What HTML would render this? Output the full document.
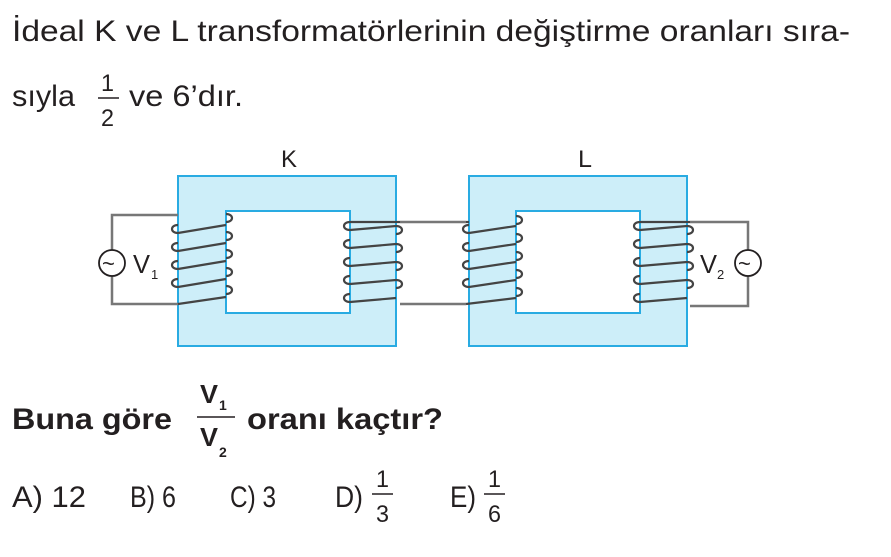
<!DOCTYPE html>
<html><head><meta charset="utf-8"><style>
html,body{margin:0;padding:0;background:#fff;}
svg{display:block;}
text{font-family:"Liberation Sans",sans-serif;fill:#231f20;}
</style></head><body>
<svg width="891" height="557" viewBox="0 0 891 557" xmlns="http://www.w3.org/2000/svg">
<text x="12" y="41" font-size="30" textLength="838" lengthAdjust="spacingAndGlyphs">İdeal K ve L transformatörlerinin değiştirme oranları sıra-</text>
<text x="12" y="106" font-size="30" textLength="63" lengthAdjust="spacingAndGlyphs">sıyla</text>
<text x="101" y="91" font-size="24" textLength="13" lengthAdjust="spacingAndGlyphs">1</text>
<line x1="98" y1="98" x2="119" y2="98" stroke="#231f20" stroke-width="1.5"/>
<text x="101" y="126" font-size="24" textLength="13" lengthAdjust="spacingAndGlyphs">2</text>
<text x="129" y="106" font-size="30" textLength="114" lengthAdjust="spacingAndGlyphs">ve 6’dır.</text>

<text x="281" y="167" font-size="24" textLength="16" lengthAdjust="spacingAndGlyphs">K</text>
<text x="578" y="167" font-size="24" textLength="14" lengthAdjust="spacingAndGlyphs">L</text>

<path d="M178 176H396V346H178Z M226 211V313H350V211Z" fill="#cdeef9" fill-rule="evenodd" stroke="#29abe2" stroke-width="2"/>
<path d="M469 176H687V346H469Z M516 211V313H640V211Z" fill="#cdeef9" fill-rule="evenodd" stroke="#29abe2" stroke-width="2"/>

<g fill="none" stroke="#777" stroke-width="2.5">
<polyline points="112,251 112,215 178,215"/>
<polyline points="112,276 112,304 178,304"/>
<polyline points="400,222 466,222"/>
<polyline points="400,304 466,304"/>
<polyline points="690,222 748,222 748,251"/>
<polyline points="690,306 748,306 748,276"/>
</g>
<circle cx="112" cy="263" r="13" fill="#fff" stroke="#231f20" stroke-width="1.8"/>
<text x="102" y="271" font-size="22">~</text>
<circle cx="748" cy="263" r="13" fill="#fff" stroke="#231f20" stroke-width="1.8"/>
<text x="738" y="271" font-size="22">~</text>
<text x="133" y="273" font-size="26" textLength="17" lengthAdjust="spacingAndGlyphs">V</text><text x="151" y="279" font-size="13">1</text>
<text x="700" y="273" font-size="26" textLength="17" lengthAdjust="spacingAndGlyphs">V</text><text x="717" y="279" font-size="13">2</text>

<g fill="none" stroke="#444" stroke-width="2.2">
<path d="M178 233c-8 0-8 -8 0 -8 M178 233 L226 225"/>
<path d="M178 251c-8 0-8 -8 0 -8 M178 251 L226 243"/>
<path d="M178 269c-8 0-8 -8 0 -8 M178 269 L226 261"/>
<path d="M178 287c-8 0-8 -8 0 -8 M178 287 L226 279"/>
<path d="M178 304 L226 297"/>
<path d="M226 214c8 0 8 8 0 8 M226 232c8 0 8 8 0 8 M226 250c8 0 8 8 0 8 M226 268c8 0 8 8 0 8 M226 286c8 0 8 8 0 8"/>
<path d="M350 222c-8 0-8 8 0 8 M350 240c-8 0-8 8 0 8 M350 258c-8 0-8 8 0 8 M350 276c-8 0-8 8 0 8 M350 294c-8 0-8 8 0 8"/>
<path d="M350 222L400 222 M350 230L396 226 M350 248L396 244 M350 266L396 262 M350 284L396 280 M350 302L396 298"/>
<path d="M396 226c8 0 8 8 0 8 M396 244c8 0 8 8 0 8 M396 262c8 0 8 8 0 8 M396 280c8 0 8 8 0 8"/>
<path d="M469 233c-8 0-8 -8 0 -8 M469 251c-8 0-8 -8 0 -8 M469 269c-8 0-8 -8 0 -8 M469 287c-8 0-8 -8 0 -8"/>
<path d="M469 233 L516 226 M469 251 L516 244 M469 269 L516 262 M469 287 L516 280 M466 304 L516 298 M466 222 L469 222"/>
<path d="M516 216c8 0 8 8 0 8 M516 234c8 0 8 8 0 8 M516 252c8 0 8 8 0 8 M516 270c8 0 8 8 0 8 M516 288c8 0 8 8 0 8"/>
<path d="M640 222c-8 0-8 8 0 8 M640 240c-8 0-8 8 0 8 M640 258c-8 0-8 8 0 8 M640 276c-8 0-8 8 0 8 M640 294c-8 0-8 8 0 8"/>
<path d="M640 222L690 222 M640 230L687 226 M640 248L687 244 M640 266L687 262 M640 284L687 280 M640 302L687 298"/>
<path d="M687 226c8 0 8 8 0 8 M687 244c8 0 8 8 0 8 M687 262c8 0 8 8 0 8 M687 280c8 0 8 8 0 8"/>
</g>

<text x="12" y="429" font-size="30" font-weight="bold" textLength="160" lengthAdjust="spacingAndGlyphs">Buna göre</text>
<text x="200" y="403" font-size="26" font-weight="bold" textLength="18" lengthAdjust="spacingAndGlyphs">V</text><text x="219" y="410" font-size="14" font-weight="bold">1</text>
<line x1="197" y1="417" x2="235" y2="417" stroke="#231f20" stroke-width="1.5"/>
<text x="200" y="446" font-size="26" font-weight="bold" textLength="18" lengthAdjust="spacingAndGlyphs">V</text><text x="219" y="457" font-size="14" font-weight="bold">2</text>
<text x="247" y="429" font-size="30" font-weight="bold" textLength="196" lengthAdjust="spacingAndGlyphs">oranı kaçtır?</text>

<g font-size="30">
<text x="12" y="507" textLength="74" lengthAdjust="spacingAndGlyphs">A) 12</text>
<text x="130" y="507" textLength="46" lengthAdjust="spacingAndGlyphs">B) 6</text>
<text x="230" y="507" textLength="46" lengthAdjust="spacingAndGlyphs">C) 3</text>
<text x="335" y="507" textLength="28" lengthAdjust="spacingAndGlyphs">D)</text>
<text x="450" y="507" textLength="26" lengthAdjust="spacingAndGlyphs">E)</text>
</g>
<text x="376" y="487" font-size="24" textLength="13" lengthAdjust="spacingAndGlyphs">1</text>
<line x1="372" y1="494" x2="393" y2="494" stroke="#231f20" stroke-width="1.5"/>
<text x="376" y="522" font-size="24" textLength="13" lengthAdjust="spacingAndGlyphs">3</text>
<text x="488" y="487" font-size="24" textLength="13" lengthAdjust="spacingAndGlyphs">1</text>
<line x1="484" y1="494" x2="505" y2="494" stroke="#231f20" stroke-width="1.5"/>
<text x="488" y="522" font-size="24" textLength="13" lengthAdjust="spacingAndGlyphs">6</text>
</svg>
</body></html>
